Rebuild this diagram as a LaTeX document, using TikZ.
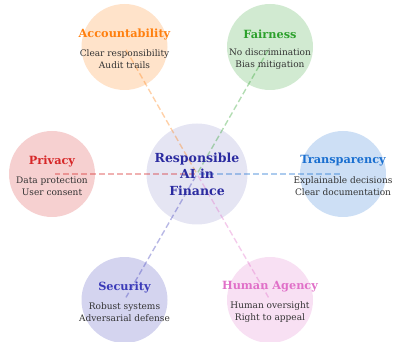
\documentclass[tikz,border=0pt]{standalone}
\usepackage{fontspec}
\setmainfont{DejaVu Serif}
\begin{document}
\definecolor{cAcc}{HTML}{FF7F0E}
\definecolor{cFair}{HTML}{2CA02C}
\definecolor{cPriv}{HTML}{D62728}
\definecolor{cTrans}{HTML}{1A6FD0}
\definecolor{cSec}{HTML}{3A3AB8}
\definecolor{cHum}{HTML}{E070C8}
\definecolor{cCore}{HTML}{2B2BA0}
\definecolor{desc}{HTML}{333333}
\begin{tikzpicture}[x=1pt,y=-1pt,
  bubble/.style={circle,minimum size=86pt,inner sep=0pt,fill=#1,fill opacity=0.22,draw=none},
  core/.style={circle,minimum size=101pt,inner sep=0pt,fill=#1,fill opacity=0.12,draw=none},
  link/.style={draw=#1,draw opacity=0.36,dash pattern=on 6pt off 3pt,line width=1.4pt,shorten >=3pt,shorten <=2pt},
  ttl/.style={text=#1,font=\fontsize{11.3}{13}\selectfont\bfseries,inner sep=0pt},
  dsc/.style={text=desc,font=\fontsize{9}{12.3}\selectfont,align=center,inner sep=0pt}]
\useasboundingbox (0,0) rectangle (394,342);
% bubbles
\node[core=cCore] (core) at (197,174) {};
\node[bubble=cAcc] (acc) at (124.5,47) {};
\node[bubble=cFair] (fair) at (270,47) {};
\node[bubble=cPriv] (priv) at (52,174) {};
\node[bubble=cTrans] (trans) at (343,174) {};
\node[bubble=cSec] (sec) at (124.5,300) {};
\node[bubble=cHum] (hum) at (270,300) {};
% spokes
\draw[link=cAcc] (core.center) -- (acc.center);
\draw[link=cFair] (core.center) -- (fair.center);
\draw[link=cPriv] (core.center) -- (priv.center);
\draw[link=cTrans] (core.center) -- (trans.center);
\draw[link=cSec] (core.center) -- (sec.center);
\draw[link=cHum] (core.center) -- (hum.center);
% labels
\node[text=cCore,font=\fontsize{12.5}{16.5}\selectfont\bfseries,align=center] (coret) at (core.center) {Responsible\\AI in\\Finance};
\foreach \n/\c/\t/\a/\b in {acc/cAcc/Accountability/Clear responsibility/Audit trails,
  fair/cFair/Fairness/No discrimination/Bias mitigation,
  priv/cPriv/Privacy/Data protection/User consent,
  trans/cTrans/Transparency/Explainable decisions/Clear documentation,
  sec/cSec/Security/Robust systems/Adversarial defense,
  hum/cHum/Human Agency/Human oversight/Right to appeal}{
  \node[ttl=\c] (\n t) at ([yshift=13pt]\n.center) {\t};
  \node[dsc] (\n d) at ([yshift=-12pt]\n.center) {\a\\\b};
}
\end{tikzpicture}
\end{document}
